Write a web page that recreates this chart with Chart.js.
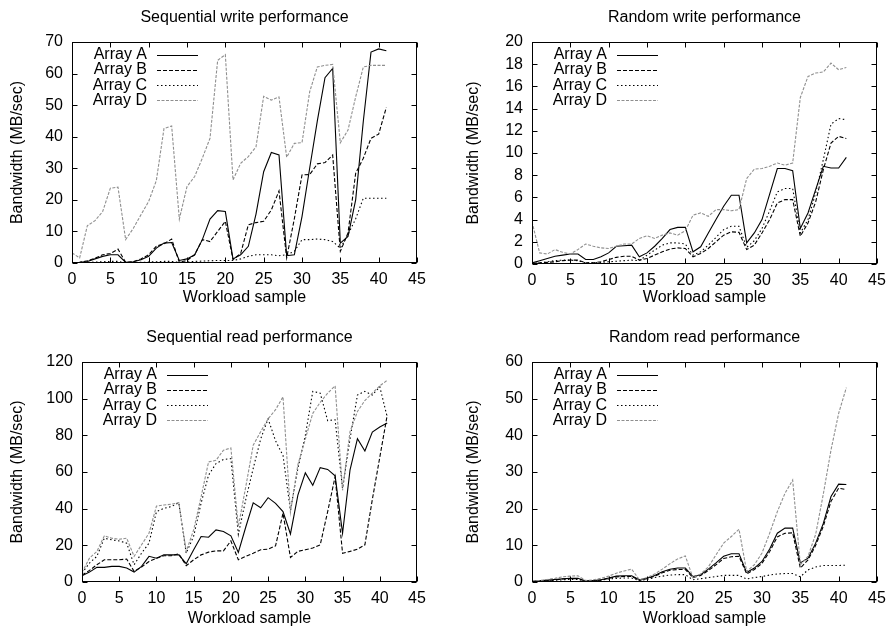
<!DOCTYPE html>
<html>
<head>
<meta charset="utf-8">
<script src="https://cdn.jsdelivr.net/npm/chart.js@4.4.1/dist/chart.umd.min.js"></script>
<style>
  html, body { margin: 0; padding: 0; background: #fff; }
  #page { position: relative; width: 888px; height: 628px; overflow: hidden; background: #fff; }
  #page canvas { position: absolute; }
</style>
</head>
<body>
<div id="page">
  <canvas id="seqWrite" width="444" height="314" style="left:0;top:0"></canvas>
  <canvas id="randWrite" width="444" height="314" style="left:444px;top:0"></canvas>
  <canvas id="seqRead" width="444" height="314" style="left:0;top:314px"></canvas>
  <canvas id="randRead" width="444" height="314" style="left:444px;top:314px"></canvas>
</div>
<script>
// x positions: workload sample index
const workloadSample = [0,1,2,3,4,5,6,7,8,9,10,11,12,13,14,15,16,17,18,19,20,
  21,22,23,24,25,26,27,28,29,30,31,32,33,34,35,36,37,38,39,40,41];
const xTicks = [0,5,10,15,20,25,30,35,40,45];

// Sequential write bandwidth (MB/sec)
const seqWriteA = [0.1,0.2,0.5,1.3,2.1,2.6,2.6,0.2,0.4,1.0,2.1,4.7,6.3,6.5,0.8,1.3,2.6,7.4,13.9,16.6,16.3,
  1.3,2.6,5.3,15.5,28.9,35.0,34.2,2.3,2.6,14.7,30.0,45.0,58.7,61.6,6.3,8.4,20.0,45.0,66.8,67.8,67.2];
const seqWriteB = [0.1,0.2,0.7,1.5,2.6,3.0,4.4,0.2,0.4,1.3,2.6,5.3,6.1,7.6,0.2,0.8,2.6,7.4,6.8,10.0,13.2,
  1.1,3.0,12.1,12.8,13.2,16.8,22.8,1.6,14.0,27.9,28.0,31.4,31.8,34.2,3.7,9.5,28.4,33.2,39.5,40.8,49.3];
const seqWriteC = [0.1,0.1,0.2,0.3,0.4,0.5,0.5,0.1,0.1,0.2,0.3,0.4,0.5,0.5,0.2,0.3,0.5,0.6,0.7,0.8,0.8,
  0.8,1.3,2.1,2.6,2.6,2.6,2.3,2.6,3.7,7.4,7.4,7.6,7.4,6.8,4.7,9.0,14.0,20.5,20.5,20.5,20.5];
const seqWriteD = [3.2,1.6,11.8,13.4,16.3,23.7,24.0,7.4,11.0,15.3,19.5,26.1,42.6,43.4,13.9,24.2,27.4,33.2,39.5,64.2,66.0,
  26.3,31.6,33.7,36.8,52.8,51.6,52.6,33.5,37.9,38.1,54.2,62.1,62.6,62.9,38.1,42.1,52.6,62.1,62.6,62.6,62.6];

// Random write bandwidth (MB/sec)
const randWriteA = [0.1,0.3,0.5,0.7,0.8,0.9,0.9,0.4,0.4,0.65,1.0,1.6,1.65,1.7,0.65,1.0,1.6,2.3,3.1,3.3,3.3,
  1.1,1.55,2.8,4.0,5.2,6.2,6.2,1.9,2.8,4.0,6.3,8.6,8.6,8.4,3.2,4.6,6.7,8.8,8.65,8.65,9.6];
const randWriteB = [0.05,0.1,0.15,0.2,0.3,0.35,0.35,0.1,0.1,0.2,0.4,0.6,0.7,0.7,0.35,0.5,0.8,1.1,1.35,1.45,1.4,
  0.65,0.95,1.4,2.0,2.6,2.9,2.85,1.3,1.7,2.8,4.0,5.5,5.8,5.8,2.5,3.7,5.6,8.5,10.9,11.5,11.3];
const randWriteC = [0.05,0.1,0.2,0.3,0.35,0.35,0.3,0.1,0.1,0.15,0.2,0.25,0.3,0.35,0.3,0.8,1.25,1.7,1.9,1.9,1.8,
  0.8,1.1,1.7,2.4,3.1,3.4,3.4,1.5,2.1,3.2,4.8,6.5,6.8,6.8,2.8,4.0,6.4,9.4,12.6,13.1,13.0];
const randWriteD = [3.8,1.0,0.9,1.3,1.05,0.9,1.3,1.8,1.6,1.45,1.4,1.6,1.8,1.8,2.3,2.55,2.3,2.6,2.8,2.6,3.0,
  4.4,4.6,4.3,4.9,4.9,4.8,4.9,7.7,8.55,8.6,8.8,9.1,8.9,9.1,15.0,16.9,17.2,17.3,18.1,17.5,17.7];

// Sequential read bandwidth (MB/sec)
const seqReadA = [3.4,5.4,8.0,8.0,8.5,8.5,7.6,5.4,8.5,14.0,13.0,14.8,14.8,14.8,10.0,17.6,24.8,24.4,28.4,27.5,25.2,
  16.1,30.0,43.2,40.5,46.0,42.9,38.4,26.2,47.4,59.5,52.8,62.4,61.4,57.9,26.6,61.0,78.2,71.5,81.8,84.5,86.7];
const seqReadB = [3.8,6.3,9.4,12.1,12.1,12.1,12.5,5.8,8.1,11.2,13.0,14.3,14.3,15.4,8.9,12.1,14.8,16.3,17.0,17.0,22.4,
  12.1,14.0,15.7,17.6,17.9,19.7,37.5,13.4,16.7,17.6,18.5,20.3,38.4,57.4,15.7,16.7,17.9,20.3,45.0,68.0,91.0];
const seqReadC = [4.9,10.3,14.0,23.9,23.0,22.4,21.2,9.4,15.7,21.2,38.4,40.2,41.1,43.3,15.7,25.0,43.0,58.3,64.6,66.8,67.3,
  26.0,45.0,62.0,78.0,89.0,77.0,69.0,39.0,62.0,80.0,104.0,103.0,88.0,88.5,51.0,78.0,102.0,104.0,102.0,106.5,90.0];
const seqReadD = [5.2,13.0,16.7,25.2,23.9,23.3,23.9,14.0,20.3,26.6,41.4,42.0,42.4,43.3,16.7,28.4,46.5,65.5,66.4,71.9,73.1,
  30.2,52.0,74.6,82.0,89.0,94.0,101.0,38.0,64.0,78.0,92.0,98.0,103.0,107.0,50.0,82.0,93.0,99.0,103.0,107.0,110.0];

// Random read bandwidth (MB/sec)
const randReadA = [0.2,0.3,0.5,0.7,0.9,1.0,1.0,0.3,0.4,0.6,1.1,1.6,1.7,1.7,0.6,1.0,1.8,2.8,3.5,3.8,3.8,
  1.5,2.0,3.5,5.2,7.0,7.7,7.7,2.6,3.8,5.6,9.0,13.3,14.7,14.7,5.2,6.5,10.6,16.0,23.3,26.7,26.6];
const randReadB = [0.15,0.25,0.45,0.6,0.8,0.9,0.9,0.25,0.35,0.5,1.0,1.4,1.5,1.5,0.5,0.9,1.6,2.5,3.2,3.4,3.4,
  1.2,1.8,3.1,4.7,6.4,6.9,7.0,2.2,3.4,5.1,8.3,12.3,13.3,13.4,3.8,6.0,10.0,15.2,22.0,25.6,25.2];
const randReadC = [0.1,0.2,0.3,0.5,0.6,0.7,0.7,0.2,0.3,0.5,0.8,1.0,1.1,1.1,0.4,0.7,1.2,1.6,1.9,2.0,2.0,
  0.6,0.9,1.2,1.5,1.8,1.8,1.8,0.8,1.2,1.5,1.9,2.2,2.3,2.3,1.4,3.3,4.1,4.5,4.5,4.5,4.6];
const randReadD = [0.2,0.4,0.7,1.0,1.4,1.6,1.7,0.4,0.6,1.0,1.6,2.4,3.0,3.5,0.6,1.2,2.2,3.5,5.0,6.3,7.1,
  1.1,2.2,4.1,7.4,10.6,12.4,14.4,2.9,4.7,7.9,13.3,19.2,24.2,27.8,4.7,7.0,13.0,24.0,36.0,46.0,53.0];

const arrayNames = ['Array A', 'Array B', 'Array C', 'Array D'];

// ---- styling ----
const FONT = '"Liberation Sans", Arial, Helvetica, sans-serif';
const FONT_SIZE = 16;
const LINE_H = FONT_SIZE * 1.2;
const TICK_LEN = 5;
const CANVAS_W = 444, CANVAS_H = 314;

const lineStyles = [
  { color: '#000000', dash: [] },        // Array A: solid
  { color: '#000000', dash: [4, 2] },    // Array B: dashed
  { color: '#000000', dash: [1.5, 2.5] },// Array C: dotted
  { color: '#8f8f8f', dash: [3, 1.5] }   // Array D: grey fine dash
];

const panels = [
  { id: 'seqWrite', title: 'Sequential write performance', series: [seqWriteA, seqWriteB, seqWriteC, seqWriteD],
    yMax: 70, yStep: 10, area: { l: 72, r: 417, t: 42, b: 263 }, titleY: 18, yTitleX: 18, xTitleY: 298 },
  { id: 'randWrite', title: 'Random write performance', series: [randWriteA, randWriteB, randWriteC, randWriteD],
    yMax: 20, yStep: 2, area: { l: 88, r: 433, t: 42, b: 264 }, titleY: 18, yTitleX: 30, xTitleY: 298 },
  { id: 'seqRead', title: 'Sequential read performance', series: [seqReadA, seqReadB, seqReadC, seqReadD],
    yMax: 120, yStep: 20, area: { l: 82, r: 417, t: 48, b: 268 }, titleY: 24, yTitleX: 18, xTitleY: 305 },
  { id: 'randRead', title: 'Random read performance', series: [randReadA, randReadB, randReadC, randReadD],
    yMax: 60, yStep: 10, area: { l: 88, r: 433, t: 48, b: 268 }, titleY: 24, yTitleX: 30, xTitleY: 305 }
];

// Frame, inward mirrored ticks and key in the style of a gnuplot panel
const gnuplotDecor = {
  id: 'gnuplotDecor',
  afterDatasetsDraw(chart) {
    const { ctx, chartArea: a } = chart;
    const xs = chart.scales.x, ys = chart.scales.y;
    const L = Math.round(a.left) + 0.5, R = Math.round(a.right) - 0.5;
    const T = Math.round(a.top) + 0.5, B = Math.round(a.bottom) - 0.5;
    ctx.save();
    ctx.strokeStyle = '#000';
    ctx.lineWidth = 1;
    ctx.setLineDash([]);
    ctx.beginPath();
    xs.ticks.forEach(t => {
      const px = Math.round(xs.getPixelForValue(t.value)) + 0.5;
      ctx.moveTo(px, B); ctx.lineTo(px, B - TICK_LEN);
      ctx.moveTo(px, T); ctx.lineTo(px, T + TICK_LEN);
    });
    ys.ticks.forEach(t => {
      const py = Math.round(ys.getPixelForValue(t.value)) + 0.5;
      ctx.moveTo(L, py); ctx.lineTo(L + TICK_LEN, py);
      ctx.moveTo(R, py); ctx.lineTo(R - TICK_LEN, py);
    });
    ctx.stroke();
    ctx.strokeRect(L, T, R - L, B - T);

    // key: right-aligned label followed by a line sample
    ctx.font = FONT_SIZE + 'px ' + FONT;
    ctx.textAlign = 'right';
    ctx.textBaseline = 'middle';
    ctx.fillStyle = '#000';
    chart.data.datasets.forEach((ds, i) => {
      const yy = a.top + 12.5 + i * 15.3;
      ctx.fillText(ds.label, a.left + 75, yy);
      ctx.save();
      ctx.strokeStyle = ds.borderColor;
      ctx.lineWidth = ds.borderWidth;
      ctx.setLineDash(ds.borderDash || []);
      ctx.beginPath();
      const ly = Math.round(yy) + 0.5;
      ctx.moveTo(a.left + 85, ly);
      ctx.lineTo(a.left + 126, ly);
      ctx.stroke();
      ctx.restore();
    });
    ctx.restore();
  }
};

const font = { family: FONT, size: FONT_SIZE, weight: 'normal' };

panels.forEach(p => {
  const datasets = p.series.map((values, i) => ({
    label: arrayNames[i],
    data: values.map((v, k) => ({ x: workloadSample[k], y: v })),
    borderColor: lineStyles[i].color,
    borderDash: lineStyles[i].dash,
    borderWidth: 1.1,
    pointRadius: 0,
    pointHoverRadius: 0,
    fill: false,
    tension: 0
  }));
  // Array A drawn last so it sits on top
  const order = [3, 2, 1, 0];
  datasets.forEach((d, i) => { d.order = order[i]; });

  new Chart(document.getElementById(p.id), {
    type: 'line',
    data: { datasets },
    options: {
      responsive: false,
      animation: false,
      events: [],
      layout: { padding: { left: 0, top: 0, bottom: 0, right: CANVAS_W - p.area.r } },
      plugins: {
        legend: { display: false },
        tooltip: { enabled: false },
        title: {
          display: true,
          text: p.title,
          color: '#000',
          font,
          fullSize: false,
          padding: { top: p.titleY - LINE_H / 2, bottom: p.area.t - p.titleY - LINE_H / 2 }
        }
      },
      scales: {
        x: {
          type: 'linear',
          min: 0, max: 45,
          afterBuildTicks: s => { s.ticks = xTicks.map(v => ({ value: v })); },
          ticks: { color: '#000', font, padding: 7, maxRotation: 0, autoSkip: false },
          grid: { display: false, drawTicks: false },
          border: { display: false },
          title: {
            display: true, text: 'Workload sample', color: '#000', font,
            padding: { top: 0, bottom: CANVAS_H - p.xTitleY - LINE_H / 2 }
          },
          afterFit: s => { s.height = CANVAS_H - p.area.b; s.paddingLeft = 0; s.paddingRight = 0; }
        },
        y: {
          type: 'linear',
          min: 0, max: p.yMax,
          ticks: { stepSize: p.yStep, color: '#000', font, padding: 9 },
          grid: { display: false, drawTicks: false },
          border: { display: false },
          title: {
            display: true, text: 'Bandwidth (MB/sec)', color: '#000', font,
            padding: { top: p.yTitleX - LINE_H / 2, bottom: 0 }
          },
          afterFit: s => { s.width = p.area.l; s.paddingTop = 0; s.paddingBottom = 0; }
        }
      }
    },
    plugins: [gnuplotDecor]
  });
});
</script>
</body>
</html>
